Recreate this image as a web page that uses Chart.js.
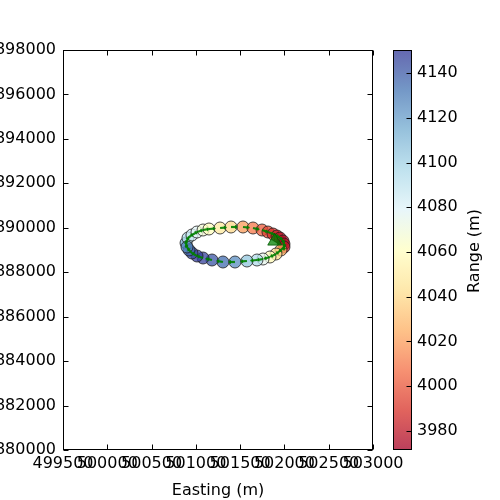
<!DOCTYPE html>
<html>
<head>
<meta charset="utf-8">
<script src="https://cdn.jsdelivr.net/npm/chart.js@4/dist/chart.umd.min.js"></script>
<style>
html, body { margin: 0; padding: 0; width: 500px; height: 500px; overflow: hidden; background: #fff; }
#main { position: absolute; left: -30px; top: 0; }
#cbar { position: absolute; left: 370px; top: 0; }
</style>
</head>
<body>
<canvas id="main" width="530" height="500"></canvas>
<canvas id="cbar" width="130" height="500"></canvas>
<script>
// track positions (m) and range to target (m)
const easting = [500889, 500911, 500956, 501013, 501081, 501148, 501273, 501397, 501532, 501645,
                 501747, 501814, 501871, 501916, 501950, 501984, 501995, 501995, 501961, 501905,
                 501837, 501758, 501690, 501577, 501442, 501306, 501182, 501081, 501013, 500956,
                 500923, 500900];
const northing = [3889315, 3889540, 3889675, 3889810, 3889900, 3889945, 3889990, 3890035, 3890035, 3889990,
                  3889900, 3889810, 3889720, 3889630, 3889540, 3889405, 3889270, 3889135, 3889000, 3888820,
                  3888685, 3888595, 3888550, 3888505, 3888460, 3888460, 3888550, 3888640, 3888730, 3888865,
                  3889000, 3889135];
const range = [4115, 4095, 4085, 4078, 4068, 4060, 4048, 4040, 4020, 4010,
               4002, 3995, 3988, 3982, 3978, 3976, 3975, 3980, 4025, 4040,
               4058, 4075, 4095, 4105, 4125, 4135, 4142, 4147, 4148, 4145,
               4138, 4128];
const startEasting = [501890];
const startNorthing = [3889400];

const xTickValues = [499500, 500000, 500500, 501000, 501500, 502000, 502500, 503000];
const yTickValues = [3880000, 3882000, 3884000, 3886000, 3888000, 3890000, 3892000, 3894000, 3896000, 3898000];
const rangeTickValues = [3980, 4000, 4020, 4040, 4060, 4080, 4100, 4120, 4140];
const rangeMin = 3971.4;
const rangeMax = 4150.4;

// RdYlBu
const cmapStops = [[165,0,38],[215,48,39],[244,109,67],[253,174,97],[254,224,144],[255,255,191],
                   [224,243,248],[171,217,233],[116,173,209],[69,117,180],[49,54,149]];
const ALPHA = 0.75;
function cmap(v) {
    let t = (v - rangeMin) / (rangeMax - rangeMin);
    t = Math.max(0, Math.min(1, t)) * (cmapStops.length - 1);
    const i = Math.min(Math.floor(t), cmapStops.length - 2);
    const f = t - i;
    const a = cmapStops[i], b = cmapStops[i + 1];
    const c = a.map((x, k) => Math.round(x + (b[k] - x) * f));
    return `rgba(${c[0]},${c[1]},${c[2]},${ALPHA})`;
}

const FONT = { family: "'DejaVu Sans'", size: 16 };
Chart.defaults.font.family = FONT.family;
Chart.defaults.color = '#000';

function setTicks(values) {
    return s => { s.ticks = values.map(v => ({ value: v })); };
}

const arrowPlugin = {
    id: 'arrows',
    afterDatasetDraw(chart, args) {
        if (args.index !== 0) return;
        const pts = args.meta.data;
        const ctx = chart.ctx;
        ctx.save();
        ctx.strokeStyle = 'rgba(0,128,0,0.9)';
        ctx.fillStyle = 'rgba(0,128,0,0.9)';
        ctx.lineWidth = 2.2;
        pts.forEach((p, i) => {
            const q = pts[(i + 1) % pts.length];
            let dx = q.x - p.x, dy = q.y - p.y;
            const d = Math.hypot(dx, dy) || 1;
            dx /= d; dy /= d;
            const L = 7;
            const ex = p.x + dx * L, ey = p.y + dy * L;
            ctx.beginPath();
            ctx.moveTo(p.x, p.y);
            ctx.lineTo(ex - dx * 2, ey - dy * 2);
            ctx.stroke();
            ctx.beginPath();
            ctx.moveTo(ex, ey);
            ctx.lineTo(ex - dx * 3 - dy * 2.2, ey - dy * 3 + dx * 2.2);
            ctx.lineTo(ex - dx * 3 + dy * 2.2, ey - dy * 3 - dx * 2.2);
            ctx.closePath();
            ctx.fill();
        });
        ctx.restore();
    }
};

const framePlugin = {
    id: 'frame',
    afterDraw(chart) {
        const { ctx, chartArea: a, scales } = chart;
        const L = Math.round(a.left) + 0.5, R = Math.round(a.right) - 0.5;
        const T = Math.round(a.top) + 0.5, B = Math.round(a.bottom) - 0.5;
        ctx.save();
        ctx.strokeStyle = '#000';
        ctx.lineWidth = 1;
        ctx.strokeRect(L, T, R - L, B - T);
        ctx.beginPath();
        scales.x.ticks.forEach(t => {
            const x = Math.round(scales.x.getPixelForValue(t.value)) + 0.5;
            ctx.moveTo(x, B); ctx.lineTo(x, B - 5);
            ctx.moveTo(x, T); ctx.lineTo(x, T + 5);
        });
        scales.y.ticks.forEach(t => {
            const y = Math.round(scales.y.getPixelForValue(t.value)) + 0.5;
            ctx.moveTo(L, y); ctx.lineTo(L + 5, y);
            ctx.moveTo(R, y); ctx.lineTo(R - 5, y);
        });
        ctx.stroke();
        ctx.restore();
    }
};

new Chart(document.getElementById('main'), {
    type: 'scatter',
    data: {
        datasets: [{
            data: easting.map((x, i) => ({ x: x, y: northing[i] })),
            backgroundColor: range.map(cmap),
            borderColor: 'rgba(30,30,30,0.8)',
            borderWidth: 1,
            pointRadius: 6,
            order: 2
        }, {
            data: startEasting.map((x, i) => ({ x: x, y: startNorthing[i] })),
            pointStyle: 'triangle',
            pointRadius: 8,
            backgroundColor: 'rgba(0,128,0,0.75)',
            borderColor: 'rgba(0,90,0,0.8)',
            borderWidth: 1,
            order: 1
        }]
    },
    options: {
        responsive: false,
        animation: false,
        devicePixelRatio: 1,
        layout: { padding: { left: 0, right: 127, top: 50, bottom: 0 } },
        plugins: { legend: { display: false }, tooltip: { enabled: false } },
        scales: {
            x: {
                type: 'linear',
                min: 499500, max: 503000,
                afterBuildTicks: setTicks(xTickValues),
                afterFit: s => { s.height = 50; },
                grid: { display: false, drawTicks: false },
                border: { display: false },
                ticks: { autoSkip: false, maxRotation: 0, minRotation: 0, padding: 4,
                         font: FONT, color: '#000', callback: v => String(v) },
                title: { display: true, text: 'Easting (m)', font: FONT, color: '#000',
                         padding: { top: 3, bottom: 0 } }
            },
            y: {
                type: 'linear',
                min: 3880000, max: 3898000,
                afterBuildTicks: setTicks(yTickValues),
                afterFit: s => { s.width = 93; },
                grid: { display: false, drawTicks: false },
                border: { display: false },
                ticks: { autoSkip: false, padding: 7, font: FONT, color: '#000',
                         callback: v => String(v) }
            }
        }
    },
    plugins: [arrowPlugin, framePlugin]
});

const colorbarPlugin = {
    id: 'colorbar',
    beforeDatasetsDraw(chart) {
        const { ctx, chartArea: a, scales } = chart;
        const g = ctx.createLinearGradient(0, a.bottom, 0, a.top);
        for (let k = 0; k <= 40; k++) {
            const v = rangeMin + (rangeMax - rangeMin) * k / 40;
            g.addColorStop(k / 40, cmap(v));
        }
        ctx.save();
        ctx.fillStyle = g;
        ctx.fillRect(a.left, a.top, a.right - a.left, a.bottom - a.top);
        const L = Math.round(a.left) + 0.5, R = Math.round(a.right) - 0.5;
        const T = Math.round(a.top) + 0.5, B = Math.round(a.bottom) - 0.5;
        ctx.strokeStyle = '#000';
        ctx.lineWidth = 1;
        ctx.strokeRect(L, T, R - L, B - T);
        ctx.beginPath();
        scales.y.ticks.forEach(t => {
            const y = Math.round(scales.y.getPixelForValue(t.value)) + 0.5;
            ctx.moveTo(R, y); ctx.lineTo(R - 5, y);
        });
        ctx.stroke();
        ctx.font = `${FONT.size}px ${FONT.family}`;
        ctx.fillStyle = '#000';
        ctx.textAlign = 'center';
        ctx.textBaseline = 'middle';
        ctx.translate(105, 251);
        ctx.rotate(-Math.PI / 2);
        ctx.fillText('Range (m)', 0, 0);
        ctx.restore();
    }
};

new Chart(document.getElementById('cbar'), {
    type: 'scatter',
    data: { datasets: [] },
    options: {
        responsive: false,
        animation: false,
        devicePixelRatio: 1,
        layout: { padding: { left: 23, right: 0, top: 50, bottom: 50 } },
        plugins: { legend: { display: false }, tooltip: { enabled: false } },
        scales: {
            x: { display: false, min: 0, max: 1 },
            y: {
                type: 'linear',
                position: 'right',
                min: rangeMin, max: rangeMax,
                afterBuildTicks: setTicks(rangeTickValues),
                afterFit: s => { s.width = 88; },
                grid: { display: false, drawTicks: false },
                border: { display: false },
                ticks: { padding: 5, font: FONT, color: '#000', callback: v => String(v) }
            }
        }
    },
    plugins: [colorbarPlugin]
});
</script>
</body>
</html>
